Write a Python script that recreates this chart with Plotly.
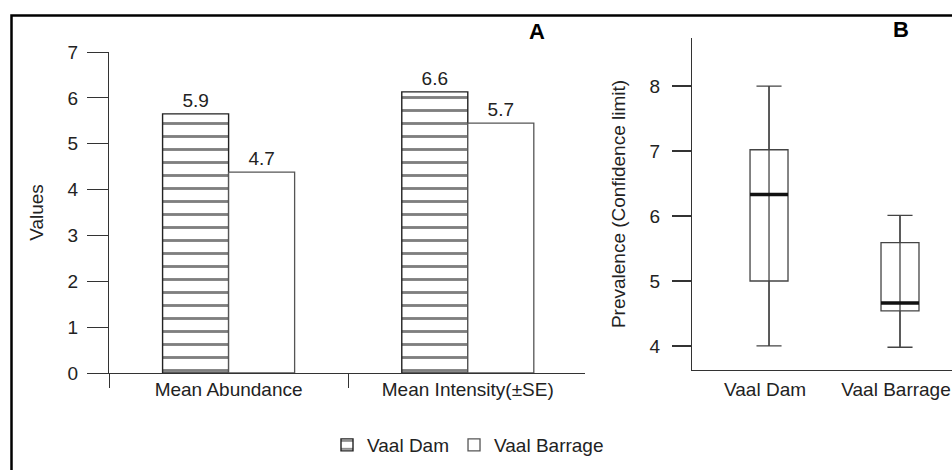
import plotly.graph_objects as go

# ---------------- data ----------------
categories_a = ["Mean Abundance", "Mean Intensity(±SE)"]
vaal_dam_values = [5.65, 6.13]          # bar heights as drawn
vaal_barrage_values = [4.38, 5.45]
vaal_dam_labels = ["5.9", "6.6"]        # printed value labels
vaal_barrage_labels = ["4.7", "5.7"]
yticks_a = [0, 1, 2, 3, 4, 5, 6, 7]

groups_b = ["Vaal Dam", "Vaal Barrage"]
positions_b = [0, 1]
lower_b = [4.0, 3.98]
q1_b = [5.0, 4.54]
median_b = [6.33, 4.66]
q3_b = [7.02, 5.59]
upper_b = [8.0, 6.01]
yticks_b = [4, 5, 6, 7, 8]

# ---------------- style ----------------
W, H = 952, 470
FONT = "Liberation Sans, Arial, sans-serif"
TXT = "#222222"
AX = "#333333"
FS = 19
BOX_W = 0.29


def px_x(p):
    return p / W


def px_y(p):
    return 1 - p / H


fig = go.Figure()

fig.add_trace(go.Bar(
    x=categories_a, y=vaal_dam_values, name="Vaal Dam",
    text=vaal_dam_labels, textposition="outside", cliponaxis=False,
    textfont=dict(family=FONT, size=FS, color=TXT),
    marker=dict(color="white", line=dict(color="#222222", width=1.4),
                pattern=dict(shape="-", fgcolor="#000000", bgcolor="white",
                             size=13, solidity=0.22)),
    xaxis="x", yaxis="y",
))
fig.add_trace(go.Bar(
    x=categories_a, y=vaal_barrage_values, name="Vaal Barrage",
    text=vaal_barrage_labels, textposition="outside", cliponaxis=False,
    textfont=dict(family=FONT, size=FS, color=TXT),
    marker=dict(color="white", line=dict(color="#555555", width=1.3)),
    xaxis="x", yaxis="y",
))

# box plot (panel B)
fig.add_trace(go.Box(
    x=positions_b, q1=q1_b, median=median_b, q3=q3_b,
    lowerfence=lower_b, upperfence=upper_b,
    width=BOX_W, whiskerwidth=0.66, boxpoints=False,
    fillcolor="white", line=dict(color="#444444", width=1.3),
    showlegend=False, hoverinfo="skip", xaxis="x2", yaxis="y2",
))
# whisker line through the box
wx, wy = [], []
for p, lo, hi in zip(positions_b, lower_b, upper_b):
    wx += [p, p, None]
    wy += [lo, hi, None]
fig.add_trace(go.Scatter(x=wx, y=wy, mode="lines",
                         line=dict(color="#444444", width=1.3),
                         showlegend=False, hoverinfo="skip",
                         xaxis="x2", yaxis="y2"))
# thick median line
mx, my = [], []
for p, m in zip(positions_b, median_b):
    mx += [p - BOX_W / 2, p + BOX_W / 2, None]
    my += [m, m, None]
fig.add_trace(go.Scatter(x=mx, y=my, mode="lines",
                         line=dict(color="#111111", width=3.5),
                         showlegend=False, hoverinfo="skip",
                         xaxis="x2", yaxis="y2"))

tickfont = dict(family=FONT, size=FS, color=TXT)

fig.update_layout(
    width=W, height=H,
    margin=dict(l=0, r=0, t=0, b=0, autoexpand=False),
    paper_bgcolor="white", plot_bgcolor="white",
    font=dict(family=FONT, size=FS, color=TXT),
    barmode="group", bargap=0.448, bargroupgap=0,
    showlegend=True,
    legend=dict(orientation="h", x=px_x(468), xanchor="center",
                y=px_y(445), yanchor="middle",
                font=dict(family=FONT, size=FS, color=TXT),
                bgcolor="rgba(0,0,0,0)", itemwidth=30, traceorder="normal"),
    xaxis=dict(domain=[px_x(109), px_x(585)], anchor="y", automargin=False,
               type="category", range=[-0.5, 1.49],
               showline=True, linecolor=AX, linewidth=1.3,
               ticks="outside", tickson="boundaries", ticklen=14,
               tickcolor=AX, tickwidth=1.3,
               tickfont=tickfont, ticklabelstandoff=-1,
               showgrid=False, zeroline=False, fixedrange=True),
    yaxis=dict(domain=[px_y(373), px_y(52)], anchor="x", automargin=False,
               range=[0, 7], tickvals=yticks_a,
               showline=True, linecolor=AX, linewidth=1.3,
               ticks="outside", ticklen=21, tickcolor=AX, tickwidth=1.3,
               tickfont=tickfont, ticklabelstandoff=5,
               showgrid=False, zeroline=False,
               title=dict(text="Values", font=dict(family=FONT, size=FS, color=TXT),
                          standoff=18)),
    xaxis2=dict(domain=[px_x(692), 1.0], anchor="y2", automargin=False,
                range=[-0.588, 1.397], tickvals=positions_b, ticktext=groups_b,
                showline=True, linecolor=AX, linewidth=1.3,
                ticks="", tickfont=tickfont, ticklabeloverflow="allow",
                ticklabelstandoff=2, ticklabelshift=-4,
                showgrid=False, zeroline=False),
    yaxis2=dict(domain=[px_y(370), px_y(38)], anchor="x2", automargin=False,
                range=[3.63, 8.74], tickvals=yticks_b,
                showline=True, linecolor=AX, linewidth=1.3,
                ticks="outside", ticklen=19, tickcolor=AX, tickwidth=1.6,
                tickfont=tickfont, ticklabelstandoff=8,
                showgrid=False, zeroline=False,
                title=dict(text="Prevalence (Confidence limit)",
                           font=dict(family=FONT, size=FS, color=TXT),
                           standoff=18)),
    shapes=[dict(type="rect", xref="paper", yref="paper",
                 x0=px_x(11.5), x1=1.05, y0=-0.05, y1=px_y(15.5),
                 line=dict(color="black", width=2.5), fillcolor="rgba(0,0,0,0)",
                 layer="above")],
    annotations=[
        dict(text="<b>A</b>", x=px_x(537), y=px_y(32), xref="paper", yref="paper",
             showarrow=False, xanchor="center", yanchor="middle",
             font=dict(family=FONT, size=22, color="black")),
        dict(text="<b>B</b>", x=px_x(901), y=px_y(30), xref="paper", yref="paper",
             showarrow=False, xanchor="center", yanchor="middle",
             font=dict(family=FONT, size=22, color="black")),
    ],
)

fig.write_html("out.html", config={"displayModeBar": False})
